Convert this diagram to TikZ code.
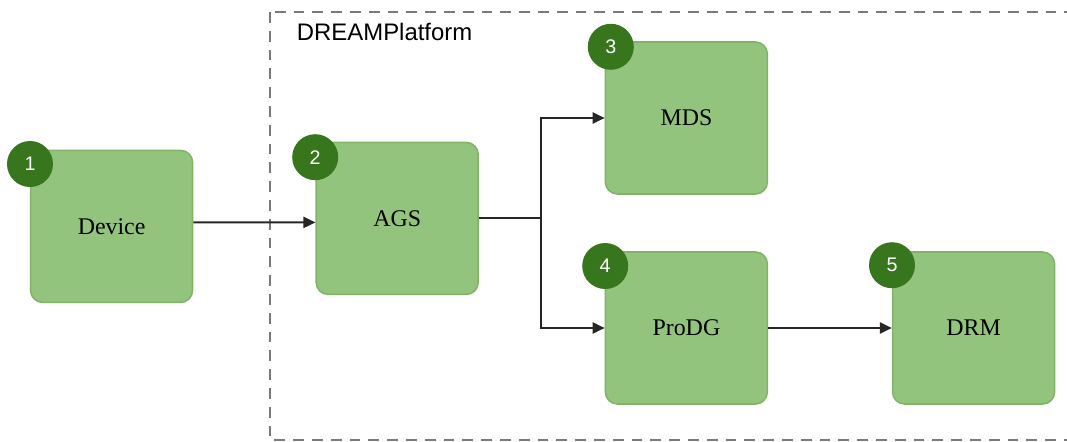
\documentclass[tikz,border=0pt]{standalone}
\usepackage{fontspec}
\setmainfont{Liberation Serif}
\setsansfont{Liberation Sans}
\usetikzlibrary{arrows.meta}
\definecolor{boxfill}{HTML}{93C47D}
\definecolor{boxline}{HTML}{82B366}
\definecolor{badge}{HTML}{38761D}
\definecolor{frame}{HTML}{7A7A7A}
\begin{document}
\begin{tikzpicture}
				\tikzstyle{comp}=[draw=boxline, fill=boxfill, line width=1.1pt, rounded corners=0.3cm, minimum width=4.05cm, minimum height=3.8cm, font=\fontsize{17}{20}\selectfont]
				\tikzstyle{num}=[circle, fill=badge, text=white, minimum size=1.15cm, inner sep=0pt, font=\sffamily\fontsize{14}{16}\selectfont]
				\tikzstyle{link}=[line width=1.3pt, black!85, -{Triangle[length=0.3cm,width=0.28cm]}]
				\useasboundingbox (0,0) rectangle (26.675,-11.025);
				\draw [frame, line width=1.6pt, dash pattern=on 0.27cm off 0.2cm] (6.75,-0.3) rectangle (27.5,-11.0);
				\node [anchor=west, font=\sffamily\fontsize{17}{20}\selectfont] (plat) at (7.3,-0.8) {DREAMPlatform};
				\node [comp] (dev) at (2.79,-5.66) {Device};
				\node [comp] (ags) at (9.93,-5.46) {AGS};
				\node [comp] (mds) at (17.16,-2.95) {MDS};
				\node [comp] (prodg) at (17.16,-8.2) {ProDG};
				\node [comp] (drm) at (24.34,-8.2) {DRM};
				\node [num] (n1) at (0.75,-4.1) {1};
				\node [num] (n2) at (7.88,-3.93) {2};
				\node [num] (n3) at (15.27,-1.17) {3};
				\node [num] (n4) at (15.13,-6.65) {4};
				\node [num] (n5) at (22.3,-6.63) {5};
				\coordinate (split) at (13.52,-5.46);
				\draw [link] ([yshift=0.1cm]dev.east) -- ([yshift=-0.1cm]ags.west);
				\draw [line width=1.3pt, black!85] (ags.east) -- (split);
				\draw [link] (split) |- (mds.west);
				\draw [link] (split) |- (prodg.west);
				\draw [link] (prodg.east) -- (drm.west);
			\end{tikzpicture}
\end{document}
